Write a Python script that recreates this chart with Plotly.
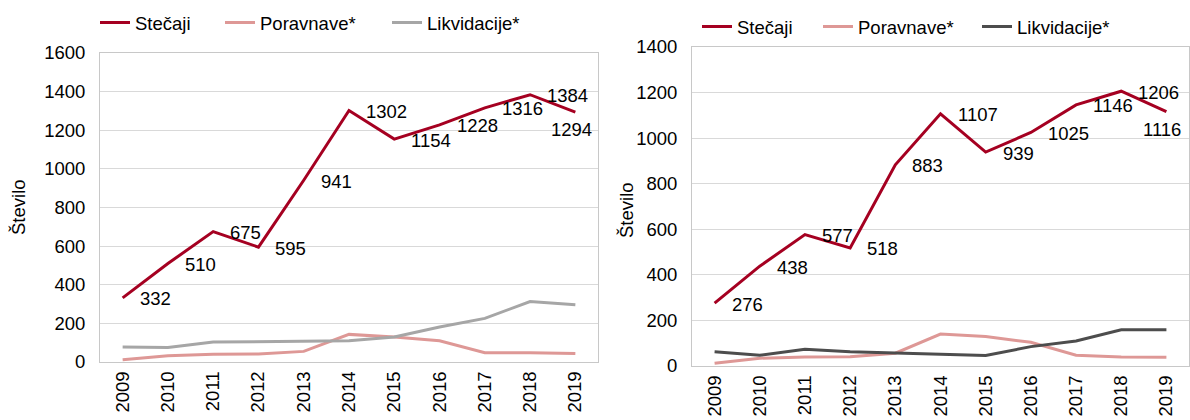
import plotly.graph_objects as go

years = ["2009", "2010", "2011", "2012", "2013", "2014", "2015", "2016", "2017", "2018", "2019"]

# Left chart
stecaji_a = [332, 510, 675, 595, 941, 1302, 1154, 1228, 1316, 1384, 1294]
poravnave_a = [12, 32, 40, 42, 55, 143, 130, 110, 48, 48, 44]
likvidacije_a = [78, 75, 103, 105, 108, 110, 130, 181, 226, 313, 297]

# Right chart
stecaji_b = [276, 438, 577, 518, 883, 1107, 939, 1025, 1146, 1206, 1116]
poravnave_b = [12, 34, 40, 41, 56, 140, 129, 104, 47, 40, 38]
likvidacije_b = [62, 47, 74, 63, 57, 50, 46, 85, 110, 159, 159]

names = ["Stečaji", "Poravnave*", "Likvidacije*"]
y_title = "Število"
RED = "#A50021"
PINK = "#DE9896"
GRAY_L = "#A6A6A6"
GRAY_D = "#4D4D4D"
FONT = "Liberation Sans, Arial, sans-serif"
FS = 18.5
W, H = 1190, 420

fig = go.Figure()

def add_set(xa, ya, legs, st, po, li, licol):
    for vals, nm, col, lg in zip([st, po, li], names, [RED, PINK, licol], legs):
        fig.add_trace(go.Scatter(x=years, y=vals, name=nm, mode="lines",
                                 line=dict(color=col, width=3),
                                 xaxis=xa, yaxis=ya, legend=lg, hoverinfo="skip"))

add_set("x", "y", ["legend", "legend2", "legend3"], stecaji_a, poravnave_a, likvidacije_a, GRAY_L)
add_set("x2", "y2", ["legend4", "legend5", "legend6"], stecaji_b, poravnave_b, likvidacije_b, GRAY_D)

annotations = []
def add_labels(xr, yr, vals):
    n = len(vals)
    for i, v in enumerate(vals):
        if i == n - 1:
            annotations.append(dict(x=i, y=v, xref=xr, yref=yr, text=str(v), showarrow=False,
                                    xanchor="center", yanchor="top", xshift=-4, yshift=-5,
                                    font=dict(family=FONT, size=FS, color="#000")))
        else:
            annotations.append(dict(x=i, y=v, xref=xr, yref=yr, text=str(v), showarrow=False,
                                    xanchor="left", yanchor="middle", xshift=15, yshift=-1,
                                    font=dict(family=FONT, size=FS, color="#000")))

add_labels("x", "y", stecaji_a)
add_labels("x2", "y2", stecaji_b)

# axis titles
for xc, yc in [(18, 207), (626, 210)]:
    annotations.append(dict(x=xc / W, y=(H - yc) / H, xref="paper", yref="paper", text=y_title,
                            textangle=-90, showarrow=False, xanchor="center", yanchor="middle",
                            font=dict(family=FONT, size=FS, color="#000")))

def px(a, b):
    return [a / W, b / W]
def py(top, bottom):
    return [(H - bottom) / H, (H - top) / H]

axis_common = dict(showgrid=False, showline=True, mirror=True, linecolor="#C8C8C8", linewidth=1,
                   ticks="", automargin=False, ticklabelstandoff=1,
                   tickfont=dict(family=FONT, size=FS, color="#000"))
yaxis_common = dict(showgrid=True, gridcolor="#D9D9D9", gridwidth=1, zeroline=False, automargin=False,
                    showline=True, mirror=True, linecolor="#C8C8C8", linewidth=1, ticks="",
                    ticklabelstandoff=10,
                    tickfont=dict(family=FONT, size=FS, color="#000"))

def leg(text_x, cy):
    return dict(orientation="h", x=(text_x - 40) / W, xanchor="left", y=(H - cy) / H, yanchor="middle",
                font=dict(family=FONT, size=FS, color="#000"), bgcolor="rgba(0,0,0,0)",
                borderwidth=0)

fig.update_layout(
    width=W, height=H,
    margin=dict(l=0, r=0, t=0, b=0, autoexpand=False),
    paper_bgcolor="white", plot_bgcolor="white",
    font=dict(family=FONT, size=FS, color="#000"),
    xaxis=dict(domain=px(100, 598), anchor="y", type="category", range=[-0.5, 10.5],
               tickangle=-90, **axis_common),
    yaxis=dict(domain=py(53, 362), anchor="x", range=[0, 1600], dtick=200, **yaxis_common),
    xaxis2=dict(domain=px(692, 1189), anchor="y2", type="category", range=[-0.5, 10.5],
                tickangle=-90, **axis_common),
    yaxis2=dict(domain=py(47, 366), anchor="x2", range=[0, 1400], dtick=200, **yaxis_common),
    legend=leg(135, 23), legend2=leg(260, 23), legend3=leg(427, 23),
    legend4=leg(737, 27), legend5=leg(858, 27), legend6=leg(1017, 27),
    annotations=annotations,
    showlegend=True,
)

fig.write_html("out.html", config={"displayModeBar": False},
               post_script="document.body.style.margin='0';")
